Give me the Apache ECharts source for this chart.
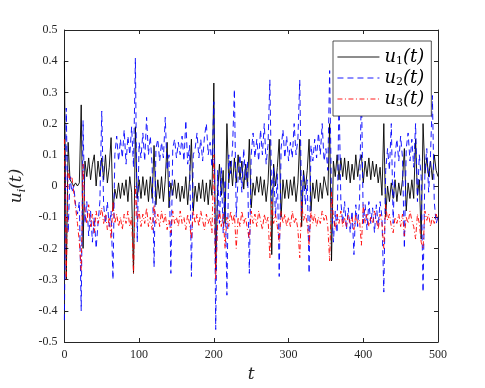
<!DOCTYPE html>
<html>
<head>
<meta charset="utf-8">
<script src="https://cdn.jsdelivr.net/npm/echarts@6/dist/echarts.min.js"></script>
<style>
html,body{margin:0;padding:0;background:#fff;}
#main{width:485px;height:388px;}
</style>
</head>
<body>
<div id="main"></div>
<script>
// sample spacing on the t axis
var tStep = 2.5;
// u1(t) black solid
var u1 = [
    0.40,-0.30,0.14,0.02,0.01,0.00,0.01,0.00,0.01,0.26,
    -0.20,0.08,0.03,0.09,0.02,0.07,0.10,0.00,0.08,0.03,
    0.09,0.02,0.10,0.01,0.06,0.155,-0.08,-0.01,-0.04,0.01,
    -0.04,0.01,-0.03,0.02,-0.05,0.03,-0.02,-0.28,0.19,-0.04,
    0.02,-0.04,0.03,-0.03,0.02,-0.05,0.03,-0.04,0.13,-0.06,
    0.02,-0.04,0.03,-0.05,0.02,0.14,-0.07,0.01,-0.03,0.02,
    -0.04,0.01,-0.05,0.00,-0.04,0.03,-0.06,0.02,0.15,-0.08,
    0.00,-0.05,0.01,-0.04,0.02,-0.05,0.01,-0.06,0.02,-0.03,
    0.33,-0.27,-0.02,0.07,-0.03,0.05,-0.12,0.20,0.01,0.08,
    0.00,0.09,0.01,0.10,0.02,0.08,-0.01,0.07,0.00,0.15,
    -0.07,0.01,-0.03,0.03,-0.02,0.03,-0.03,0.02,-0.05,0.01,
    0.15,-0.22,0.07,0.00,0.06,0.15,-0.10,0.02,-0.04,0.02,
    -0.04,0.02,-0.03,0.03,-0.05,0.01,0.15,-0.13,0.05,-0.01,
    0.05,0.15,-0.08,0.01,-0.04,0.02,-0.05,0.01,-0.04,0.03,
    0.03,-0.03,0.20,-0.24,0.08,0.03,0.10,0.02,0.09,0.03,
    0.09,0.02,0.08,0.01,0.07,0.02,0.10,0.03,0.08,0.10,
    0.01,0.08,0.03,0.09,0.02,0.08,0.03,0.07,0.01,0.06,
    -0.03,0.20,-0.10,0.00,-0.05,0.01,-0.04,0.02,-0.05,0.01,
    -0.03,0.02,0.12,-0.08,0.01,-0.04,0.02,-0.04,0.15,-0.03,
    0.02,-0.17,0.20,0.04,0.09,0.03,0.08,0.02,0.10,0.05,
    0.03
];
// u2(t) blue dashed
var u2 = [
    -0.43,0.25,-0.15,0.03,-0.02,0.00,-0.06,-0.09,-0.05,-0.40,
    0.21,-0.12,-0.05,-0.16,-0.08,-0.18,-0.10,-0.20,-0.12,-0.05,
    0.24,-0.06,-0.12,-0.05,-0.13,-0.08,-0.30,0.10,0.16,0.08,
    0.15,0.09,0.18,0.07,0.16,0.10,0.19,0.06,0.41,-0.18,
    0.14,0.09,0.17,0.08,0.22,0.10,0.16,0.06,-0.26,0.12,
    0.15,0.08,0.14,0.09,0.22,0.05,0.10,-0.28,0.12,0.15,
    0.09,0.14,0.10,0.16,0.08,0.21,0.07,0.13,-0.29,0.10,
    0.12,0.17,0.09,0.15,0.08,0.16,0.20,0.10,0.14,0.06,
    0.27,-0.46,0.05,-0.12,0.06,-0.15,0.02,-0.35,0.10,0.04,
    0.12,0.31,-0.10,0.03,0.10,-0.02,0.12,0.02,0.08,-0.28,
    0.10,0.17,0.09,0.15,0.08,0.18,0.10,0.20,0.07,0.13,
    0.34,-0.05,0.06,-0.10,0.04,-0.29,0.12,0.18,0.09,0.16,
    0.08,0.14,0.09,0.20,0.10,0.15,0.34,-0.08,0.04,-0.06,
    0.02,-0.28,0.13,0.08,0.15,0.09,0.17,0.10,0.20,0.08,
    0.12,0.05,0.37,-0.05,-0.18,-0.08,-0.15,0.30,-0.05,-0.12,
    -0.05,-0.14,-0.07,-0.15,-0.08,-0.22,-0.06,-0.13,-0.05,0.32,
    -0.12,-0.06,-0.14,-0.05,-0.12,-0.07,-0.15,-0.06,-0.13,-0.05,
    -0.10,-0.34,0.05,0.12,0.05,0.20,-0.12,0.10,0.15,0.08,
    0.16,0.09,-0.20,0.12,0.17,0.08,0.15,0.06,0.20,-0.05,
    0.10,0.03,-0.34,0.05,0.12,-0.02,0.10,0.29,-0.05,-0.12,
    -0.10
];
// u3(t) red dash-dot
var u3 = [
    0.15,-0.30,0.05,0.02,0.03,-0.02,-0.07,-0.12,-0.18,-0.27,
    0.07,-0.08,-0.12,-0.06,-0.13,-0.09,-0.15,-0.08,-0.12,-0.10,
    -0.07,-0.12,-0.09,-0.14,-0.10,-0.17,-0.05,-0.12,-0.09,-0.13,
    -0.10,-0.14,-0.09,-0.12,-0.08,-0.13,-0.10,-0.28,0.00,-0.11,
    -0.08,-0.13,-0.09,-0.12,-0.07,-0.13,-0.10,-0.14,-0.06,-0.12,
    -0.09,-0.13,-0.08,-0.12,-0.09,-0.14,-0.11,-0.15,-0.08,-0.12,
    -0.10,-0.13,-0.08,-0.12,-0.10,-0.14,-0.09,-0.12,-0.17,-0.08,
    -0.12,-0.09,-0.13,-0.08,-0.11,-0.14,-0.09,-0.12,-0.10,-0.15,
    0.10,-0.30,-0.12,-0.08,-0.13,-0.09,-0.20,-0.10,-0.13,-0.08,
    -0.12,-0.09,-0.20,-0.10,-0.13,-0.08,-0.12,-0.10,-0.14,-0.17,
    -0.08,-0.12,-0.09,-0.13,-0.08,-0.11,-0.14,-0.09,-0.12,-0.10,
    -0.23,-0.05,-0.12,-0.09,-0.13,-0.18,-0.08,-0.12,-0.09,-0.13,
    -0.10,-0.13,-0.08,-0.12,-0.10,-0.14,-0.23,-0.05,-0.11,-0.09,
    -0.12,-0.19,-0.08,-0.12,-0.09,-0.13,-0.10,-0.12,-0.08,-0.11,
    -0.09,-0.13,-0.24,-0.02,-0.10,-0.14,-0.09,-0.12,-0.08,-0.13,
    -0.10,-0.13,-0.09,-0.12,-0.10,-0.14,-0.09,-0.12,-0.11,-0.19,
    -0.06,-0.12,-0.09,-0.13,-0.10,-0.12,-0.08,-0.11,-0.14,-0.09,
    -0.12,-0.20,-0.06,-0.11,-0.09,-0.13,-0.15,-0.10,-0.12,-0.09,
    -0.13,-0.09,-0.16,-0.10,-0.12,-0.08,-0.11,-0.13,-0.17,-0.09,
    -0.12,-0.18,-0.20,-0.08,-0.11,-0.09,-0.13,-0.10,-0.12,-0.09,
    -0.11
];
var names = ['u1', 'u2', 'u3'];
var subs = ['1', '2', '3'];

// [t, value] pairs
function pairs(arr){
    var out = [];
    for (var i = 0; i < arr.length; i++) {
        out.push([i * tStep, arr[i]]);
    }
    return out;
}

var axisCol = '#262626';
var serif = 'Liberation Serif';
var mathFont = 'DejaVu Serif';

function xAx(pos, lab){
    return {
        type: 'value', position: pos, min: 0, max: 500, interval: 100,
        axisLine: { show: true, onZero: false, lineStyle: { color: axisCol, width: 1 } },
        axisTick: { show: true, inside: true, length: 4, lineStyle: { color: axisCol } },
        splitLine: { show: false },
        axisLabel: { show: lab, color: axisCol, fontFamily: serif, fontSize: 12, margin: 7 }
    };
}
function yAx(pos, lab){
    return {
        type: 'value', position: pos, min: -0.5, max: 0.5, interval: 0.1,
        axisLine: { show: true, onZero: false, lineStyle: { color: axisCol, width: 1 } },
        axisTick: { show: true, inside: true, length: 4, lineStyle: { color: axisCol } },
        splitLine: { show: false },
        axisLabel: {
            show: lab, color: axisCol, fontFamily: serif, fontSize: 12, margin: 7,
            formatter: function(v){ return Math.abs(v) < 1e-9 ? '0' : v.toFixed(1); }
        }
    };
}

var myChart = echarts.init(document.getElementById('main'));
var xb = xAx('bottom', true);
xb.name = 't';
xb.nameLocation = 'middle';
xb.nameGap = 21;
xb.nameTextStyle = { fontFamily: mathFont, fontStyle: 'italic', fontSize: 17, color: axisCol };
var yl = yAx('left', true);
yl.name = '{i|u}{s|i}{i|(t)}';
yl.nameLocation = 'middle';
yl.nameRotate = 90;
yl.nameGap = 27;
yl.nameTextStyle = {
    color: axisCol,
    rich: {
        i: { fontFamily: mathFont, fontStyle: 'italic', fontSize: 17, lineHeight: 22, color: axisCol },
        s: { fontFamily: mathFont, fontStyle: 'italic', fontSize: 11, verticalAlign: 'bottom', color: axisCol }
    }
};

var option = {
    animation: false,
    backgroundColor: '#fff',
    grid: { left: 63, right: 47, top: 30, bottom: 46 },
    xAxis: [xb, xAx('top', false)],
    yAxis: [yl, yAx('right', false)],
    legend: {
        orient: 'vertical',
        left: 333, top: 41,
        padding: [7, 7, 7, 4],
        itemGap: 2,
        itemWidth: 42,
        itemHeight: 14,
        backgroundColor: '#fff',
        borderColor: axisCol,
        borderWidth: 0.8,
        borderRadius: 0,
        itemStyle: { opacity: 0 },
        lineStyle: { width: 0.9 },
        data: names,
        formatter: function(name){
            return '{i|u}{s|' + subs[names.indexOf(name)] + '}{i|(t)}';
        },
        textStyle: {
            color: '#000',
            rich: {
                i: { fontFamily: mathFont, fontStyle: 'italic', fontSize: 18, lineHeight: 20, color: '#000' },
                s: { fontFamily: mathFont, fontSize: 11, verticalAlign: 'bottom', color: '#000' }
            }
        }
    },
    series: [
        {
            name: 'u1', type: 'line', data: pairs(u1), symbol: 'none', showSymbol: false,
            lineStyle: { color: '#000', width: 0.9, type: 'solid' }, itemStyle: { color: '#000' }
        },
        {
            name: 'u2', type: 'line', data: pairs(u2), symbol: 'none', showSymbol: false,
            lineStyle: { color: '#0000ff', width: 0.9, type: [6, 4] }, itemStyle: { color: '#0000ff' }
        },
        {
            name: 'u3', type: 'line', data: pairs(u3), symbol: 'none', showSymbol: false,
            lineStyle: { color: '#ff0000', width: 0.9, type: [5, 2.5, 1, 2.5] }, itemStyle: { color: '#ff0000' }
        }
    ]
};
myChart.setOption(option);
</script>
</body>
</html>
